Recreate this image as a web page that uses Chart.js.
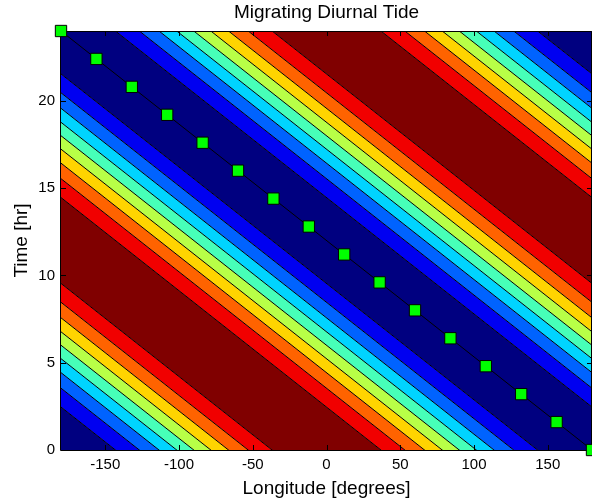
<!DOCTYPE html>
<html><head><meta charset="utf-8">
<script src="https://cdn.jsdelivr.net/npm/chart.js@4/dist/chart.umd.min.js"></script>
<style>html,body{margin:0;padding:0;background:#fff}#wrap{width:592px;height:503px;position:relative}</style>
</head><body><div id="wrap"><canvas id="c"></canvas></div>
<script>
// ---- data ----
const xTickValues = [-150, -100, -50, 0, 50, 100, 150];
const yTickValues = [0, 5, 10, 15, 20];
const contourLevels = [-0.8, -0.6, -0.4, -0.2, 0, 0.2, 0.4, 0.6, 0.8];
const levelHoursFromMax = [9.54, 8.46, 7.57, 6.77, 6.00, 5.23, 4.43, 3.54, 2.46];
const bandColors = ['#000080', '#0000F1', '#0063FF', '#00D4FF', '#47FFB8',
                    '#B8FF47', '#FFD400', '#FF6300', '#F10000', '#800000'];
const tidePeriodHours = 24;
const degreesPerHour = 15;        // westward migration with the sun
const maxHourAtZeroLon = 0;       // tidal maximum at 0 deg longitude at 0 hr
// track of the minimum (green squares)
const minTrackLon  = [-180, -156, -132, -108, -84, -60, -36, -12, 12, 36, 60, 84, 108, 132, 156, 180];
const minTrackHour = [24, 22.4, 20.8, 19.2, 17.6, 16, 14.4, 12.8, 11.2, 9.6, 8, 6.4, 4.8, 3.2, 1.6, 0];

// ---- build contour stripes (lines of constant phase: t + lon/15 = c) ----
const bounds = [];
for (let k = -1; k <= 2; k++) {
  for (const h of levelHoursFromMax) {
    bounds.push(maxHourAtZeroLon + tidePeriodHours * k + h);
    bounds.push(maxHourAtZeroLon + tidePeriodHours * k - h);
  }
}
bounds.sort((a, b) => a - b);
const X0 = -200, X1 = 200;
function bandIndex(c) {
  let d = ((c - maxHourAtZeroLon) % tidePeriodHours + tidePeriodHours) % tidePeriodHours;
  d = Math.min(d, tidePeriodHours - d);
  return levelHoursFromMax.filter(h => h > d).length;
}
const datasets = [{
  label: 'track',
  data: minTrackLon.map((x, i) => ({x, y: minTrackHour[i]})),
  borderColor: '#000', borderWidth: 1,
  pointStyle: 'rect', pointRadius: 8, pointHoverRadius: 8,
  pointBackgroundColor: '#00FF00', pointBorderColor: '#000', pointBorderWidth: 1,
  fill: false, clip: false, order: 0
}];
bounds.forEach((c, i) => {
  const last = i === bounds.length - 1;
  const col = last ? 'rgba(0,0,0,0)' : bandColors[bandIndex((c + bounds[i + 1]) / 2)];
  datasets.push({
    label: 'c' + i,
    data: [{x: X0, y: c - X0 / degreesPerHour}, {x: X1, y: c - X1 / degreesPerHour}],
    borderColor: '#000', borderWidth: 1, pointRadius: 0, pointHoverRadius: 0,
    backgroundColor: col, fill: last ? false : '+1', order: 1
  });
});

const frame = {
  id: 'frame',
  beforeDatasetDraw(chart, args) {
    if (args.index !== 0) return;
    const {ctx, chartArea: a, scales: {x, y}} = chart;
    ctx.save();
    ctx.strokeStyle = '#000'; ctx.lineWidth = 1;
    ctx.beginPath();
    ctx.moveTo(a.left - 0.5, a.top + 0.5); ctx.lineTo(a.right - 0.5, a.top + 0.5);
    ctx.lineTo(a.right - 0.5, a.bottom + 0.5); ctx.lineTo(a.left - 0.5, a.bottom + 0.5);
    ctx.closePath(); ctx.stroke();
    const L = 5;
    ctx.beginPath();
    xTickValues.forEach(v => {
      const px = Math.round(x.getPixelForValue(v)) + 0.5;
      ctx.moveTo(px, a.bottom); ctx.lineTo(px, a.bottom - L);
      ctx.moveTo(px, a.top); ctx.lineTo(px, a.top + L);
    });
    yTickValues.forEach(v => {
      const py = Math.round(y.getPixelForValue(v)) + 0.5;
      ctx.moveTo(a.left, py); ctx.lineTo(a.left + L, py);
      ctx.moveTo(a.right, py); ctx.lineTo(a.right - L, py);
    });
    ctx.stroke();
    ctx.restore();
  }
};

Chart.defaults.font.family = "'Liberation Sans', Arial, sans-serif";
Chart.defaults.color = '#000';
new Chart(document.getElementById('c'), {
  type: 'line',
  data: {datasets},
  options: {
    responsive: true, maintainAspectRatio: false, animation: false,
    layout: {padding: 0, autoPadding: false},
    plugins: {
      legend: {display: false}, tooltip: {enabled: false},
      filler: {drawTime: 'beforeDatasetsDraw'},
      title: {display: true, text: 'Migrating Diurnal Tide', fullSize: false,
              font: {size: 19, weight: 'normal'}, color: '#000',
              padding: {top: 1.3, bottom: 6.9}}
    },
    scales: {
      x: {
        type: 'linear', min: -180, max: 180, position: 'bottom',
        grid: {display: false, drawTicks: false}, border: {display: false},
        ticks: {font: {size: 15}, color: '#000', padding: 6, autoSkip: false, maxRotation: 0},
        afterBuildTicks: s => { s.ticks = xTickValues.map(v => ({value: v})); },
        afterFit: s => { s.height = 53; s.paddingRight = 0; s.paddingLeft = 0; },
        title: {display: true, text: 'Longitude [degrees]', font: {size: 19}, color: '#000',
                padding: {top: 0, bottom: 3.2}}
      },
      y: {
        type: 'linear', min: 0, max: 24,
        grid: {display: false, drawTicks: false}, border: {display: false},
        ticks: {font: {size: 15}, color: '#000', padding: 6, autoSkip: false},
        afterBuildTicks: s => { s.ticks = yTickValues.map(v => ({value: v})); },
        afterFit: s => { s.width = 61; s.paddingTop = 0; s.paddingBottom = 0; },
        title: {display: true, text: 'Time [hr]', font: {size: 19}, color: '#000',
                padding: {top: 10.3, bottom: 0}}
      }
    }
  },
  plugins: [frame]
});
</script></body></html>
